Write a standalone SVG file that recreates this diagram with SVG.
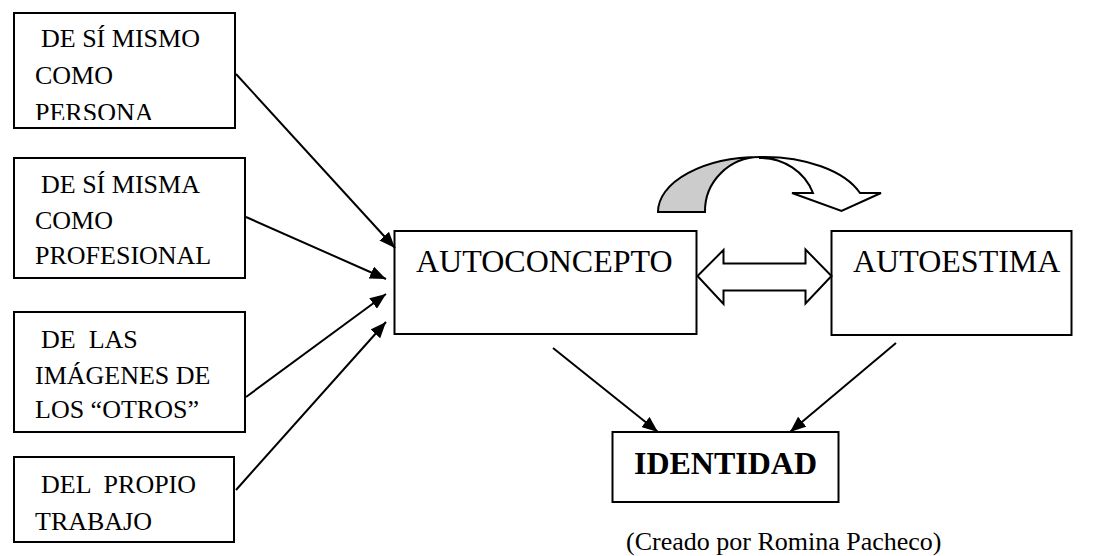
<svg xmlns="http://www.w3.org/2000/svg" width="1099" height="556" viewBox="0 0 1099 556">
<style>
.box{fill:#fff;stroke:#000;stroke-width:2}
text{font-family:'Liberation Serif','Times New Roman',Times,'DejaVu Serif',serif;fill:#000}
.t{font-size:26px}
.tl{font-size:32px}
.tb{font-size:32px;font-weight:bold}
.con{stroke:#000;stroke-width:2;fill:none;marker-end:url(#ah)}
.shape{stroke:#000;stroke-width:2;stroke-linejoin:miter}
</style>
<defs>
<marker id="ah" markerUnits="userSpaceOnUse" markerWidth="17" markerHeight="13" refX="16" refY="6.5" orient="auto" viewBox="0 0 17 13">
<path d="M0,0 L16,6.5 L0,13 Z" fill="#000"/>
</marker>
<clipPath id="clip1"><rect x="15" y="14" width="219" height="106"/></clipPath>
</defs>
<rect width="1099" height="556" fill="#fff"/>

<g id="n-persona">
<rect class="box" x="14" y="13" width="221" height="115"/>
<g clip-path="url(#clip1)">
<text class="t" font-family="Liberation Serif, serif" x="41" y="47">DE SÍ MISMO</text>
<text class="t" font-family="Liberation Serif, serif" x="35" y="84">COMO</text>
<text class="t" font-family="Liberation Serif, serif" x="35" y="121">PERSONA</text>
</g>
</g>

<g id="n-profesional">
<rect class="box" x="14" y="158" width="231" height="120"/>
<text class="t" font-family="Liberation Serif, serif" x="41" y="193">DE SÍ MISMA</text>
<text class="t" font-family="Liberation Serif, serif" x="35" y="229">COMO</text>
<text class="t" font-family="Liberation Serif, serif" x="35" y="264">PROFESIONAL</text>
</g>

<g id="n-otros">
<rect class="box" x="14" y="312" width="231" height="120"/>
<text class="t" font-family="Liberation Serif, serif" x="41" y="348" xml:space="preserve">DE  LAS</text>
<text class="t" font-family="Liberation Serif, serif" x="35" y="384">IMÁGENES DE</text>
<text class="t" font-family="Liberation Serif, serif" x="35" y="418">LOS “OTROS”</text>
</g>

<g id="n-trabajo">
<rect class="box" x="14" y="457" width="220" height="85"/>
<text class="t" font-family="Liberation Serif, serif" x="41" y="493" xml:space="preserve">DEL  PROPIO</text>
<text class="t" font-family="Liberation Serif, serif" x="35" y="530">TRABAJO</text>
</g>

<g id="n-autoconcepto">
<rect class="box" x="394.5" y="231" width="302" height="103"/>
<text class="tl" font-family="Liberation Serif, serif" x="416" y="272">AUTOCONCEPTO</text>
</g>

<g id="n-autoestima">
<rect class="box" x="831.5" y="231" width="240" height="104"/>
<text class="tl" font-family="Liberation Serif, serif" x="853" y="272">AUTOESTIMA</text>
</g>

<g id="n-identidad">
<rect class="box" x="612.5" y="432" width="226" height="70"/>
<text class="tb" font-family="Liberation Serif, serif" x="725.5" y="474" text-anchor="middle">IDENTIDAD</text>
</g>

<g id="double-arrow">
<path class="shape" fill="#fff" d="M697.5,276 L723.5,250 L723.5,263.5 L805.5,263.5 L805.5,249.5 L831.5,276 L805.5,303.5 L805.5,290.5 L723.5,290.5 L723.5,304 Z"/>
</g>

<g id="curved-arrow">
<path class="shape" fill="#fff" d="M760,157 A102,55 0 0 1 860,193 L881,193 L841.5,211 L792,193 L813,193 A56,54 0 0 0 760,158 Z"/>
<path class="shape" fill="#cccccc" d="M658,212 A102,55 0 0 1 760,157 A55,54 0 0 0 705,212 Z"/>
</g>

<g id="connectors">
<line class="con" x1="236" y1="74" x2="395" y2="248"/>
<line class="con" x1="246" y1="217" x2="386" y2="279"/>
<line class="con" x1="246" y1="397" x2="386" y2="294"/>
<line class="con" x1="236" y1="490" x2="386" y2="322"/>
<line class="con" x1="553" y1="348" x2="658" y2="432"/>
<line class="con" x1="896" y1="343" x2="790" y2="432"/>
</g>

<text class="t" font-family="Liberation Serif, serif" x="626" y="550">(Creado por Romina Pacheco)</text>
</svg>
